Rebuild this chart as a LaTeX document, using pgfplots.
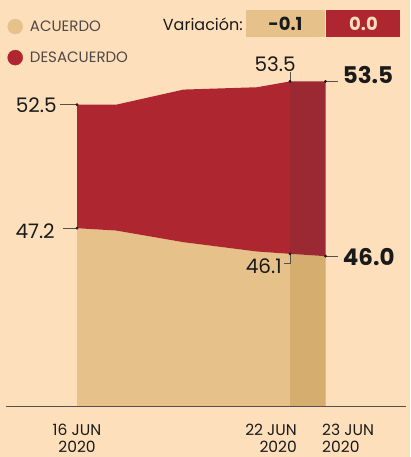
\documentclass[border=0pt]{standalone}
\usepackage{pgfplots}
\pgfplotsset{compat=1.18}
\usepgfplotslibrary{fillbetween}
\usepackage{pgfplotstable}
\usepackage{fontspec}
\setmainfont{Poppins}
\definecolor{bg}{HTML}{FDDFBC}
\definecolor{tanA}{HTML}{E6C28A}
\definecolor{tanB}{HTML}{D5AD6F}
\definecolor{redA}{HTML}{AE2630}
\definecolor{redB}{HTML}{9A2933}
\definecolor{ink}{HTML}{1A1A1A}
\definecolor{leg}{HTML}{4F4844}
\definecolor{axisgray}{HTML}{55504A}

\pgfplotstableread{
x     acu   des
16    47.2  52.5
17.1  47.1  52.5
19    46.6  53.15
21.07 46.2  53.25
22    46.1  53.5
23    46.0  53.5
}\data

\begin{document}
\begin{tikzpicture}
\begin{axis}[
  at={(0pt,0pt)}, anchor=south west,
  scale only axis, width=410pt, height=457pt,
  xmin=13.831, xmax=25.380, ymin=37.381, ymax=56.995,
  axis line style={draw=none}, xtick=\empty, ytick=\empty,
  axis background/.style={fill=bg},
  clip=false,
  legend style={at={(0.0183,0.9595)}, anchor=north west, draw=none, fill=none,
    inner sep=0pt, outer sep=0pt, row sep=15pt,
    font=\fontsize{15}{17}\selectfont, text=leg,
    /tikz/every odd column/.append style={column sep=5pt}},
  legend cell align=left,
]
\addplot[draw=none, name path=acu, forget plot] table[x=x,y=acu]{\data};
\addplot[draw=none, name path=des, forget plot] table[x=x,y=des]{\data};
\path[name path=base] (axis cs:16,39.57) -- (axis cs:23,39.57);
\addplot[tanA, legend image code/.code={\fill[tanA] (7.5pt,0pt) circle (7.5pt);}]
  fill between[of=acu and base, soft clip={domain=16:22}];
\addlegendentry{ACUERDO}
\addplot[redA, legend image code/.code={\fill[redA] (7.5pt,0pt) circle (7.5pt);}]
  fill between[of=des and acu, soft clip={domain=16:22}];
\addlegendentry{DESACUERDO}
\addplot[tanB, forget plot] fill between[of=acu and base, soft clip={domain=22:23}];
\addplot[redB, forget plot] fill between[of=des and acu, soft clip={domain=22:23}];

\draw[axisgray, line width=0.8pt] (axis cs:14,39.57) -- (axis cs:25.268,39.57);

% leader lines and labels
\draw[axisgray, line width=0.6pt] (axis cs:16,52.5) -- ++(-17pt,0pt)
  node[anchor=east, inner sep=0pt, xshift=-3pt, text=ink, font=\fontsize{20}{22}\selectfont]{52.5};
\draw[axisgray, line width=0.6pt] (axis cs:16,47.2) -- ++(-14pt,0pt)
  node[anchor=east, inner sep=0pt, xshift=-8pt, yshift=-3pt, text=ink, font=\fontsize{20}{22}\selectfont]{47.2};
\draw[axisgray, line width=0.6pt] (axis cs:22,53.5) -- ++(0pt,9pt)
  node[anchor=south east, inner sep=0pt, xshift=6pt, yshift=1pt, text=ink, font=\fontsize{20}{22}\selectfont]{53.5};
\draw[axisgray, line width=0.6pt] (axis cs:22,46.1) -- ++(0pt,-9pt) -- ++(-6pt,0pt)
  node[anchor=east, inner sep=0pt, xshift=-2pt, yshift=-3pt, text=ink, font=\fontsize{20}{22}\selectfont]{46.1};
\draw[axisgray, line width=0.6pt] (axis cs:23,53.5) -- ++(12pt,0pt)
  node[anchor=west, inner sep=0pt, xshift=5pt, yshift=6pt, text=ink, font=\bfseries\fontsize{23}{25}\selectfont]{53.5};
\draw[axisgray, line width=0.6pt] (axis cs:23,46.0) -- ++(12pt,0pt)
  node[anchor=west, inner sep=0pt, xshift=5pt, yshift=-1pt, text=ink, font=\bfseries\fontsize{23}{25}\selectfont]{46.0};

\addplot[only marks, mark=*, mark size=1.2pt, ink, forget plot] coordinates {
  (16,52.5) (16,47.2) (22,53.5) (22,46.1) (23,53.5) (23,46.0)};

% date labels
\node[anchor=north, align=center, inner sep=0pt, yshift=-17.5pt, text=ink, font=\fontsize{15.5}{17.5}\selectfont]
  at (axis cs:16,39.57) {16 JUN\\2020};
\node[anchor=north east, align=right, inner sep=0pt, yshift=-17.5pt, xshift=7pt, text=ink, font=\fontsize{15.5}{17.5}\selectfont]
  at (axis cs:22,39.57) {22 JUN\\2020};
\node[anchor=north west, align=left, inner sep=0pt, yshift=-17.5pt, xshift=-3.5pt, text=ink, font=\fontsize{15.5}{17.5}\selectfont]
  at (axis cs:23,39.57) {23 JUN\\2020};
\end{axis}

% header
\node[anchor=east, inner sep=0pt, text=ink, font=\fontsize{16}{18}\selectfont] at (243pt,433pt) {Variación:};
\fill[tanA] (246pt,420pt) rectangle (325pt,447pt);
\fill[redA] (326pt,420pt) rectangle (400pt,447pt);
\node[inner sep=0pt, text=ink, font=\bfseries\fontsize{18}{20}\selectfont] at (285.5pt,433pt) {-0.1};
\node[inner sep=0pt, text=bg, font=\bfseries\fontsize{18}{20}\selectfont] at (363.5pt,433pt) {0.0};
\end{tikzpicture}
\end{document}
